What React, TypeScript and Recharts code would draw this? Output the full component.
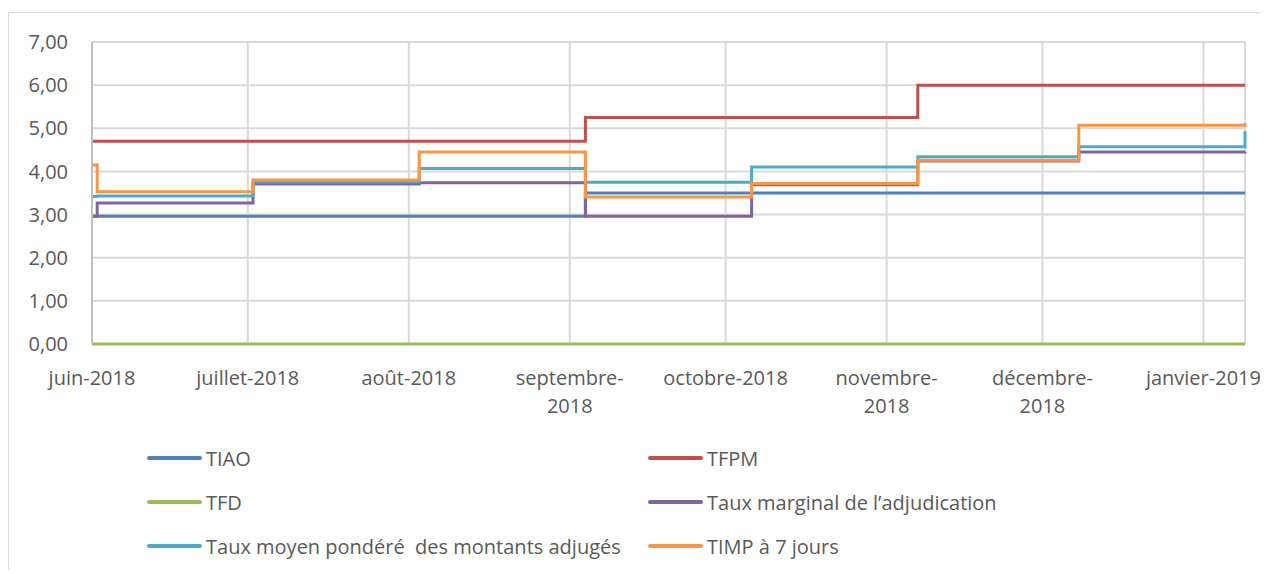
import { LineChart, Line, XAxis, YAxis, CartesianGrid, Legend } from "recharts";

const FONT = "'Open Sans', sans-serif";
const TEXT = "#595959";

// day 0 of the x axis
const START = "2018-06-01";

// dates where the rates change (first row is the opening value)
const changeDates = [
  "2018-06-01",
  "2018-06-02",
  "2018-07-02",
  "2018-08-03",
  "2018-09-04",
  "2018-10-06",
  "2018-11-07",
  "2018-12-08",
  "2019-01-09",
];

const tiao = [2.96, 2.96, 2.96, 2.96, 3.5, 3.5, 3.5, 3.5, 3.5];
const tfpm = [4.7, 4.7, 4.7, 4.7, 5.25, 5.25, 6.0, 6.0, 6.0];
const tfd = [0, 0, 0, 0, 0, 0, 0, 0, 0];
const tauxMarginal = [2.96, 3.27, 3.71, 3.74, 2.96, 3.69, 4.24, 4.45, 4.46];
const tauxMoyen = [3.42, 3.43, 3.76, 4.07, 3.75, 4.1, 4.34, 4.57, 4.93];
const timp = [4.15, 3.53, 3.8, 4.45, 3.41, 3.72, 4.26, 5.07, 5.12];

const monthTicks = [
  "2018-06-01",
  "2018-07-01",
  "2018-08-01",
  "2018-09-01",
  "2018-10-01",
  "2018-11-01",
  "2018-12-01",
  "2019-01-01",
];
const monthLabels = [
  "juin-2018",
  "juillet-2018",
  "août-2018",
  "septembre-2018",
  "octobre-2018",
  "novembre-2018",
  "décembre-2018",
  "janvier-2019",
];

const yTicks = [0, 1, 2, 3, 4, 5, 6, 7];

const series = [
  { key: "tiao", name: "TIAO", color: "#4F81BD" },
  { key: "tfpm", name: "TFPM", color: "#C0504D" },
  { key: "tfd", name: "TFD", color: "#9BBB59" },
  { key: "tauxMarginal", name: "Taux marginal de l’adjudication", color: "#8064A2" },
  { key: "tauxMoyen", name: "Taux moyen pondéré  des montants adjugés", color: "#4BACC6" },
  { key: "timp", name: "TIMP à 7 jours", color: "#F79646" },
];

const dayOf = (d: string) => (Date.parse(d) - Date.parse(START)) / 86400000;

const data = changeDates.map((d, i) => ({
  day: dayOf(d),
  tiao: tiao[i],
  tfpm: tfpm[i],
  tfd: tfd[i],
  tauxMarginal: tauxMarginal[i],
  tauxMoyen: tauxMoyen[i],
  timp: timp[i],
}));

const MonthTick = (props: any) => {
  const { x, y, payload } = props;
  const idx = monthTicks.findIndex((m) => dayOf(m) === payload.value);
  const label = monthLabels[idx] || "";
  // long labels wrap after the hyphen like in the original
  const cut = label.lastIndexOf("-") + 1;
  const lines = label.length > 12 ? [label.slice(0, cut), label.slice(cut)] : [label];
  return (
    <g>
      {lines.map((l, i) => (
        <text
          key={i}
          x={x}
          y={y + 33 + i * 28}
          textAnchor="middle"
          dominantBaseline="central"
          fill={TEXT}
          fontSize={20}
          fontFamily={FONT}
        >
          {l}
        </text>
      ))}
    </g>
  );
};

const renderLegend = (props: any) => {
  // keep the series order (2 columns, row by row)
  const items = [...(props.payload || [])].sort(
    (a: any, b: any) =>
      series.findIndex((s) => s.name === a.value) - series.findIndex((s) => s.name === b.value)
  );
  return (
    <div
      style={{
        display: "grid",
        gridTemplateColumns: "501px 501px",
        paddingLeft: 135,
        fontFamily: FONT,
        fontSize: 20,
        color: TEXT,
      }}
    >
      {items.map((p: any) => (
        <div key={p.value} style={{ display: "flex", alignItems: "center", height: 44 }}>
          <div style={{ width: 55, height: 4, borderRadius: 2, backgroundColor: p.color, marginRight: 4 }} />
          <span style={{ whiteSpace: "pre" }}>{p.value}</span>
        </div>
      ))}
    </div>
  );
};

export default function App() {
  return (
    <div
      style={{
        position: "relative",
        top: 4,
        width: 1259,
        height: 561,
        borderLeft: "1px solid #d9d9d9",
        borderTop: "1px solid #d9d9d9",
      }}
    >
      <LineChart width={1259} height={561} data={data} margin={{ top: 29, right: 23, bottom: 6, left: 3 }}>
        <CartesianGrid stroke="#d9d9d9" strokeWidth={2} />
        <XAxis
          dataKey="day"
          type="number"
          domain={[0, dayOf("2019-01-09")]}
          ticks={monthTicks.map(dayOf)}
          interval={0}
          tick={<MonthTick />}
          tickLine={false}
          tickSize={0}
          tickMargin={0}
          height={92}
          axisLine={false}
        />
        <YAxis
          domain={[0, 7]}
          ticks={yTicks}
          width={80}
          tickLine={false}
          tickSize={0}
          tickMargin={24}
          axisLine={{ stroke: "#bfbfbf", strokeWidth: 2 }}
          tick={{ fill: TEXT, fontSize: 20, fontFamily: FONT }}
          tickFormatter={(v) => v.toFixed(2).replace(".", ",")}
        />
        <Legend content={renderLegend} verticalAlign="bottom" />
        {series.map((s) => (
          <Line
            key={s.key}
            type="stepAfter"
            dataKey={s.key}
            name={s.name}
            stroke={s.color}
            strokeWidth={3}
            dot={false}
            isAnimationActive={false}
          />
        ))}
      </LineChart>
    </div>
  );
}
